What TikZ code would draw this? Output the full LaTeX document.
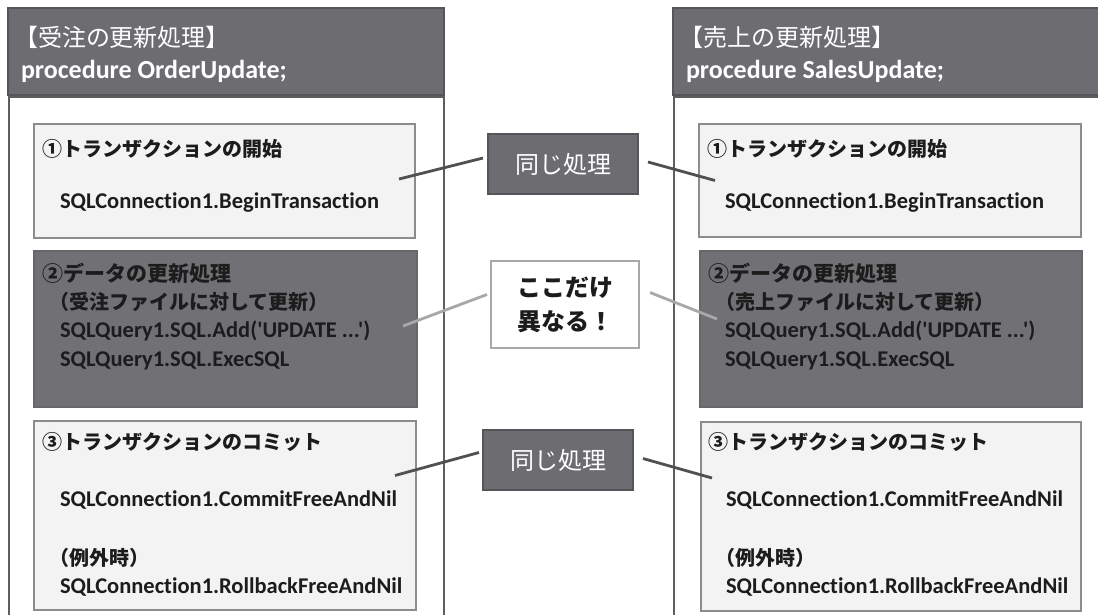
\documentclass[tikz,border=0pt]{standalone}
\usepackage{fontspec}
\newfontfamily\jp{Noto Sans CJK JP}
\newfontfamily\code[Ligatures=CommonOff]{Carlito}
\definecolor{hdr}{HTML}{6D6D71}
\definecolor{hdrline}{HTML}{55555A}
\definecolor{frame}{HTML}{5E5E60}
\definecolor{lbox}{HTML}{F3F3F3}
\definecolor{lboxline}{HTML}{8C8C8C}
\definecolor{dbox}{HTML}{717175}
\definecolor{dboxline}{HTML}{67676A}
\definecolor{txt}{HTML}{1C1C1C}
\definecolor{lline}{HTML}{A8A8A8}
\definecolor{dline}{HTML}{505052}
\begin{document}
\begin{tikzpicture}[x=1pt,y=-1pt,
  every node/.style={inner sep=0pt,outer sep=0pt},
  header/.style={fill=hdr,draw=hdrline,line width=1.5pt,anchor=north west,minimum height=87pt},
  panel/.style={draw=frame,line width=2pt},
  lightbox/.style={fill=lbox,draw=lboxline,line width=1.8pt,anchor=north west},
  darkbox/.style={fill=dbox,draw=dboxline,line width=1.5pt,anchor=north west},
  samebox/.style={fill=hdr,draw=hdrline,line width=1.5pt,anchor=north west,minimum width=150pt,minimum height=60pt,text=white,font=\jp\fontsize{24}{28}\selectfont},
  diffbox/.style={fill=white,draw=lline,line width=2.5pt,anchor=north west,minimum width=148pt,minimum height=87pt,align=center,text=txt,font=\jp\bfseries\fontsize{24}{34}\selectfont},
  hjp/.style={anchor=west,text=white,font=\jp\fontsize{24}{26}\selectfont},
  hcode/.style={anchor=west,text=white,font=\code\bfseries\fontsize{26}{28}\selectfont},
  title/.style={anchor=west,text=txt,font=\jp\bfseries\fontsize{20}{24}\selectfont},
  dtitle/.style={anchor=west,text=txt,font=\jp\bfseries\fontsize{21}{24}\selectfont},
  paren/.style={anchor=west,text=txt,font=\jp\bfseries\fontsize{20}{24}\selectfont},
  codeline/.style={anchor=west,text=txt,font=\code\bfseries\fontsize{22.5}{26}\selectfont},
  sameline/.style={draw=dline,line width=2.8pt},
  diffline/.style={draw=lline,line width=2.8pt}
]
\useasboundingbox (0,0) rectangle (1098,614);
\fill[white] (0,0) rectangle (1098,614);

% ---------- left panel ----------
\draw[panel] (9,96) -- (9,630) (444,96) -- (444,630) (9,97) -- (444,97);
\node[header,minimum width=436pt] (LH) at (8,8) {};
\node[hjp] (LH1) at (14,37) {【受注の更新処理】};
\node[hcode] (LH2) at (21,71) {procedure OrderUpdate;};

\node[lightbox,minimum width=381pt,minimum height=114pt] (L1) at (34,124) {};
\node[title] at (42,149) {①トランザクションの開始};
\node[codeline] at (60,203) {SQLConnection1.BeginTransaction};

\node[darkbox,minimum width=383pt,minimum height=156pt] (L2) at (34,251) {};
\node[dtitle] at (42,273) {②データの更新処理};
\node[paren] at (49,302) {（受注ファイルに対して更新）};
\node[codeline] at (60,331) {SQLQuery1.SQL.Add('UPDATE ...')};
\node[codeline] at (60,361) {SQLQuery1.SQL.ExecSQL};

\node[lightbox,minimum width=382pt,minimum height=189pt] (L3) at (34,421) {};
\node[title] at (42,442) {③トランザクションのコミット};
\node[codeline] at (60,500) {SQLConnection1.CommitFreeAndNil};
\node[paren] at (49,558) {（例外時）};
\node[codeline] at (60,587) {SQLConnection1.RollbackFreeAndNil};

% ---------- right panel ----------
\draw[panel] (674,96) -- (674,630) (674,97) -- (1110,97);
\node[header,minimum width=440pt] (RH) at (673,8) {};
\node[hjp] (RH1) at (679,37) {【売上の更新処理】};
\node[hcode] (RH2) at (686,71) {procedure SalesUpdate;};

\node[lightbox,minimum width=382pt,minimum height=113pt] (R1) at (699,124) {};
\node[title] at (707,149) {①トランザクションの開始};
\node[codeline] at (725,203) {SQLConnection1.BeginTransaction};

\node[darkbox,minimum width=382pt,minimum height=156pt] (R2) at (700,251) {};
\node[dtitle] at (708,273) {②データの更新処理};
\node[paren] at (715,302) {（売上ファイルに対して更新）};
\node[codeline] at (725,331) {SQLQuery1.SQL.Add('UPDATE ...')};
\node[codeline] at (725,361) {SQLQuery1.SQL.ExecSQL};

\node[lightbox,minimum width=380pt,minimum height=189pt] (R3) at (701,422) {};
\node[title] at (708,442) {③トランザクションのコミット};
\node[codeline] at (726,500) {SQLConnection1.CommitFreeAndNil};
\node[paren] at (715,558) {（例外時）};
\node[codeline] at (726,587) {SQLConnection1.RollbackFreeAndNil};

% ---------- middle labels ----------
\node[samebox] (S1) at (488,134) {同じ処理};
\node[diffbox] (D) at (491,261) {ここだけ\\異なる！};
\node[samebox] (S2) at (483,430) {同じ処理};

% ---------- connectors ----------
\draw[sameline] ([shift={(-16,-2)}]L1.east) -- ([shift={(-5,-6)}]S1.west);
\draw[sameline] ([shift={(10,-2)}]S1.east) -- ([shift={(16,0)}]R1.west);
\draw[diffline] ([shift={(-14,-3)}]L2.east) -- ([shift={(-4,-10)}]D.west);
\draw[diffline] ([shift={(11,-12)}]D.east) -- ([shift={(17,-10)}]R2.west);
\draw[sameline] ([shift={(-21,-40)}]L3.east) -- ([shift={(-4,-7.5)}]S2.west);
\draw[sameline] ([shift={(10,-1.5)}]S2.east) -- ([shift={(11,-38.5)}]R3.west);
\end{tikzpicture}
\end{document}
